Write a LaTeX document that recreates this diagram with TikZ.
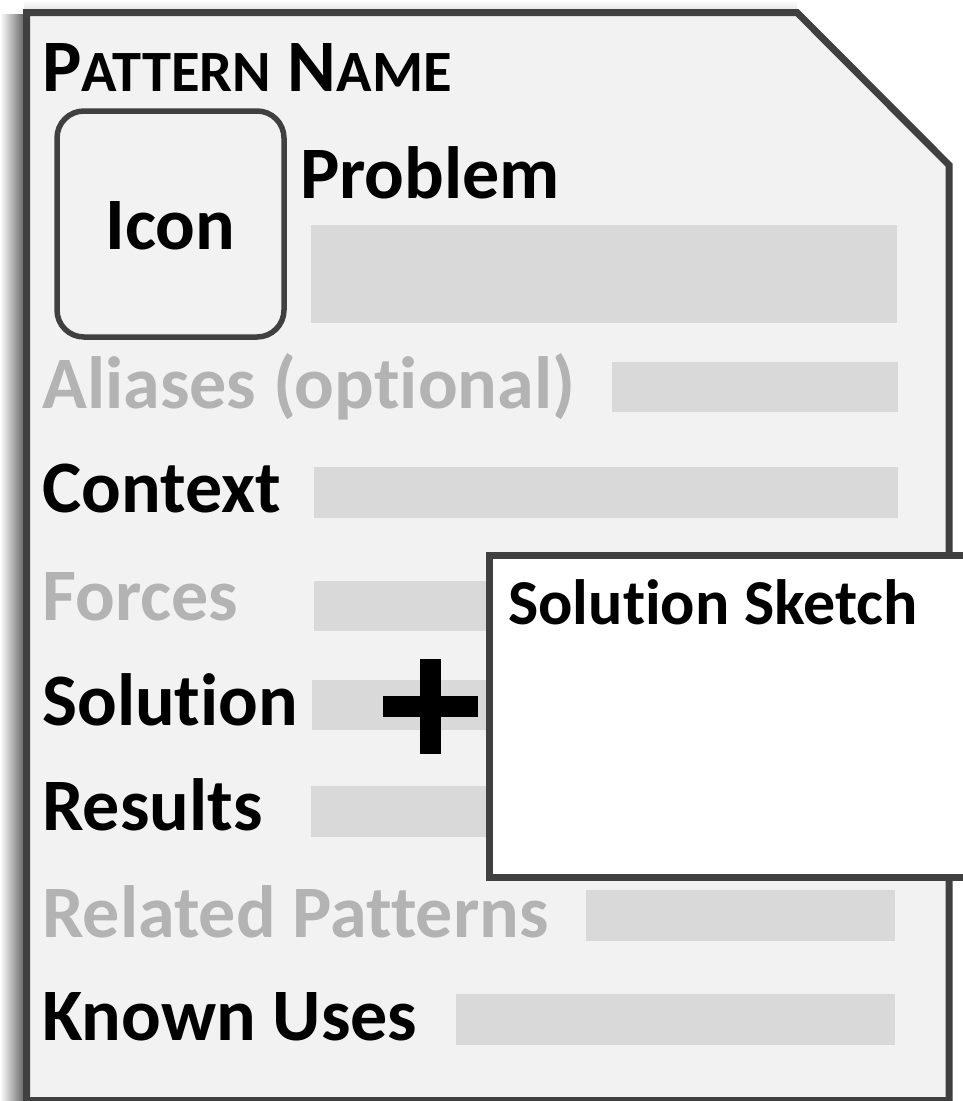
\documentclass[tikz,border=0pt]{standalone}
\usepackage{fontspec}
\setmainfont{Carlito}[RawFeature=-liga]
\definecolor{edge}{HTML}{404040}
\definecolor{paper}{HTML}{F2F2F2}
\definecolor{bar}{HTML}{D9D9D9}
\definecolor{dim}{HTML}{B3B3B3}
\tikzset{
  lbl/.style={anchor=base west, inner sep=0pt, font=\bfseries\fontsize{74}{74}\selectfont},
  dimlbl/.style={lbl, text=dim},
  barbox/.style={fill=bar, draw=none},
  outline/.style={draw=edge, line width=7pt},
}
\begin{document}
\begin{tikzpicture}[x=1pt,y=-1pt]
\useasboundingbox[fill=white] (0,0) rectangle (962,1101);
% shadow
\shade[left color=white, right color=black!60] (0,14) rectangle (24,1101);
\shade[top color=white, bottom color=black!10] (24,0) rectangle (797,10);
% card
\draw[outline, fill=paper, line join=miter] (26.5,12.5) -- (797,12.5) -- (949,165) -- (949,1100.5) -- (26.5,1100.5) -- cycle;
% bars
\fill[barbox] (311,225) rectangle (897,323);
\fill[barbox] (612,362) rectangle (898,412);
\fill[barbox] (314,467) rectangle (898,518);
\fill[barbox] (314,581) rectangle (898,631);
\fill[barbox] (312,680) rectangle (898,730);
\fill[barbox] (311,786) rectangle (898,837);
\fill[barbox] (586,890) rectangle (895,941);
\fill[barbox] (456,994) rectangle (895,1045);
% icon
\node[draw=edge, line width=5.5pt, rounded corners=27pt, minimum width=227pt, minimum height=226pt, inner sep=0pt] (icon) at (170.5,224) {};
\node[lbl, anchor=base] (icontext) at (170.5,249) {Icon};
% labels
\node[lbl] (name) at (42,91) {P{\fontsize{58.5}{58.5}\selectfont ATTERN} N{\fontsize{58.5}{58.5}\selectfont AME}};
\node[lbl] (problem) at (300,198) {Problem};
\node[dimlbl] (aliases) at (42,408) {Aliases (optional)};
\node[lbl] (context) at (42,512) {Context};
\node[dimlbl] (forces) at (42,620) {Forces};
\node[lbl] (solution) at (42,725) {Solution};
\node[lbl] (results) at (42,830) {Results};
\node[dimlbl] (related) at (42,937) {Related Patterns};
\node[lbl] (known) at (42,1040) {Known Uses};
% plus
\fill[black] (420,659) rectangle (441,754);
\fill[black] (383,696) rectangle (478,717);
% sketch box
\draw[outline, fill=white] (489.5,555.5) rectangle (975,877);
\node[lbl, font=\bfseries\fontsize{64}{64}\selectfont] (sketch) at (508,624) {Solution Sketch};
\end{tikzpicture}
\end{document}
